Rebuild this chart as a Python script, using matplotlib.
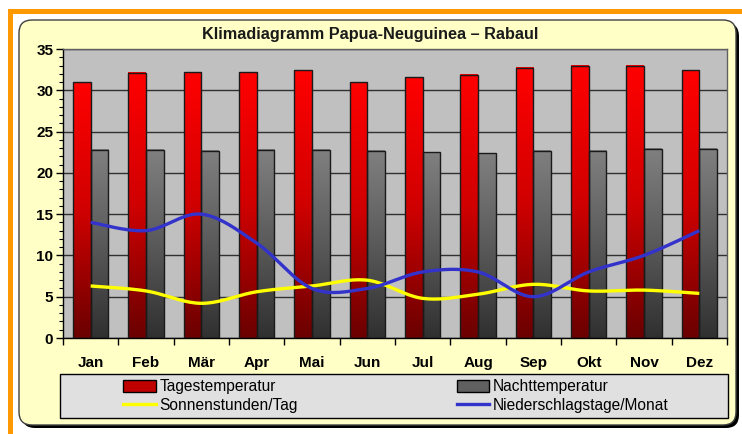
import matplotlib
matplotlib.use("Agg")
import matplotlib.pyplot as plt
import numpy as np
from matplotlib.colors import LinearSegmentedColormap
from matplotlib.patches import Rectangle, FancyBboxPatch, Patch
from matplotlib.lines import Line2D
from matplotlib.transforms import IdentityTransform

plt.rcParams["font.family"] = ["Liberation Sans", "DejaVu Sans"]

MONATE = ["Jan", "Feb", "Mär", "Apr", "Mai", "Jun",
          "Jul", "Aug", "Sep", "Okt", "Nov", "Dez"]
TAGESTEMP = [31.0, 32.1, 32.2, 32.2, 32.4, 31.0, 31.6, 31.9, 32.7, 33.0, 33.0, 32.4]
NACHTTEMP = [22.8, 22.8, 22.7, 22.8, 22.8, 22.7, 22.5, 22.4, 22.7, 22.7, 22.9, 22.9]
SONNE = [6.3, 5.7, 4.2, 5.6, 6.3, 7.0, 4.8, 5.3, 6.5, 5.7, 5.8, 5.4]
REGENTAGE = [14, 13, 15, 11.5, 6, 6, 8, 8, 5, 8, 10, 13]

TITLE = "Klimadiagramm Papua-Neuguinea – Rabaul"
LABELS = ["Tagestemperatur", "Nachttemperatur",
          "Sonnenstunden/Tag", "Niederschlagstage/Monat"]

W, H = 742, 434


def smooth(x, y, n=20):
    # Catmull-Rom, roughly what Excel does for "smoothed line"
    x = np.asarray(x, float)
    y = np.asarray(y, float)
    px = np.concatenate([[x[0]], x, [x[-1]]])
    py = np.concatenate([[y[0]], y, [y[-1]]])
    xs, ys = [], []
    t = np.linspace(0, 1, n, endpoint=False)
    for i in range(1, len(px) - 2):
        for p, out in ((px, xs), (py, ys)):
            p0, p1, p2, p3 = p[i - 1], p[i], p[i + 1], p[i + 2]
            out.extend(0.5 * (2 * p1 + (-p0 + p2) * t
                              + (2 * p0 - 5 * p1 + 4 * p2 - p3) * t ** 2
                              + (-p0 + 3 * p1 - 3 * p2 + p3) * t ** 3))
    xs.append(x[-1])
    ys.append(y[-1])
    return np.array(xs), np.array(ys)


def gradient_bars(ax, bars, cmap):
    grad = np.linspace(0, 1, 256).reshape(-1, 1)
    for b in bars:
        x0, y0 = b.get_x(), b.get_y()
        ax.imshow(grad, extent=[x0, x0 + b.get_width(), y0, y0 + b.get_height()],
                  origin="lower", aspect="auto", cmap=cmap, zorder=2)


fig = plt.figure(figsize=(W / 100, H / 100), dpi=100)
fig.patch.set_facecolor("white")

# orange frame + yellow rounded panel with shadow
px = IdentityTransform()
fig.patches.append(Rectangle((8, 0), 5, 425, transform=px,
                             facecolor="#FF9900", edgecolor="none", zorder=-3))
fig.patches.append(Rectangle((8, 420), W - 8, 5, transform=px,
                             facecolor="#FF9900", edgecolor="none", zorder=-3))
fig.patches.append(FancyBboxPatch((22, 6), 717, 405, boxstyle="round,pad=0,rounding_size=13",
                                  transform=px, facecolor="black",
                                  edgecolor="none", zorder=-2))
fig.patches.append(FancyBboxPatch((19, 9), 717, 405, boxstyle="round,pad=0,rounding_size=13",
                                  transform=px, facecolor="#FFFFC6",
                                  edgecolor="#404040", linewidth=1, zorder=-1))

ax = fig.add_axes([63 / W, 1 - 338 / H, 664 / W, 289 / H])
ax.set_facecolor("#C0C0C0")

x = np.arange(len(MONATE))
bw = 0.32
red_cmap = LinearSegmentedColormap.from_list("r", ["#6A0000", "#D00000", "#FF0000"])
gray_cmap = LinearSegmentedColormap.from_list("g", ["#303030", "#5A5A5A", "#808080"])

b1 = ax.bar(x - bw / 2, TAGESTEMP, bw, facecolor="none", edgecolor="#1A1A1A",
            linewidth=1, zorder=3)
b2 = ax.bar(x + bw / 2, NACHTTEMP, bw, facecolor="none", edgecolor="#1A1A1A",
            linewidth=1, zorder=3)
gradient_bars(ax, b1, red_cmap)
gradient_bars(ax, b2, gray_cmap)

sx, sy = smooth(x, SONNE)
ax.plot(sx, sy, color="#FFFF00", linewidth=2.4, zorder=4, solid_capstyle="butt")
rx, ry = smooth(x, REGENTAGE)
ax.plot(rx, ry, color="#3333CC", linewidth=2.4, zorder=5, solid_capstyle="butt")

ax.set_xlim(-0.5, len(MONATE) - 0.5)
ax.set_ylim(0, 35)
ax.set_yticks(np.arange(0, 36, 5))
ax.set_yticks(np.arange(0, 36, 1), minor=True)
ax.yaxis.grid(True, which="major", color="#303030", linewidth=1, zorder=1)
ax.set_axisbelow(True)

ax.set_xticks(np.arange(-0.5, len(MONATE), 1))
ax.set_xticklabels([])
ax.set_xticks(x, minor=True)
ax.set_xticklabels(MONATE, minor=True, fontsize=11, fontweight="bold")
ax.tick_params(axis="x", which="major", direction="out", length=5, width=1)
ax.tick_params(axis="x", which="minor", length=0, pad=13)
ax.tick_params(axis="y", which="major", direction="out", length=5, width=1,
               labelsize=11, pad=2)
ax.tick_params(axis="y", which="minor", direction="out", length=3, width=0.8)
for lab in ax.get_yticklabels():
    lab.set_fontweight("bold")

for side in ("top", "right"):
    ax.spines[side].set_color("#606060")
    ax.spines[side].set_linewidth(1)
for side in ("left", "bottom"):
    ax.spines[side].set_color("black")
    ax.spines[side].set_linewidth(1)

fig.text(370 / W, 1 - 35 / H, TITLE, ha="center", va="center",
         fontsize=11.7, fontweight="bold", color="#1A1A1A")

# legend box
fig.patches.append(Rectangle((60, H - 418), 668, 44, transform=px,
                             facecolor="#E0E0E0", edgecolor="black", linewidth=1, zorder=1))
handles = [
    Patch(facecolor="#C00000", edgecolor="black", linewidth=1),
    Line2D([], [], color="#FFFF00", linewidth=2.4),
    Patch(facecolor="#606060", edgecolor="black", linewidth=1),
    Line2D([], [], color="#3333CC", linewidth=2.4),
]
labels = [LABELS[0], LABELS[2], LABELS[1], LABELS[3]]
leg = fig.legend(handles, labels, ncol=2, loc="center",
                 bbox_to_anchor=(396 / W, 1 - 396 / H), frameon=False,
                 fontsize=11.2, handlelength=2.1, handleheight=0.75,
                 handletextpad=0.25, columnspacing=10.2, labelspacing=0.2)
leg.set_zorder(2)

fig.savefig("out.png", dpi=100)
